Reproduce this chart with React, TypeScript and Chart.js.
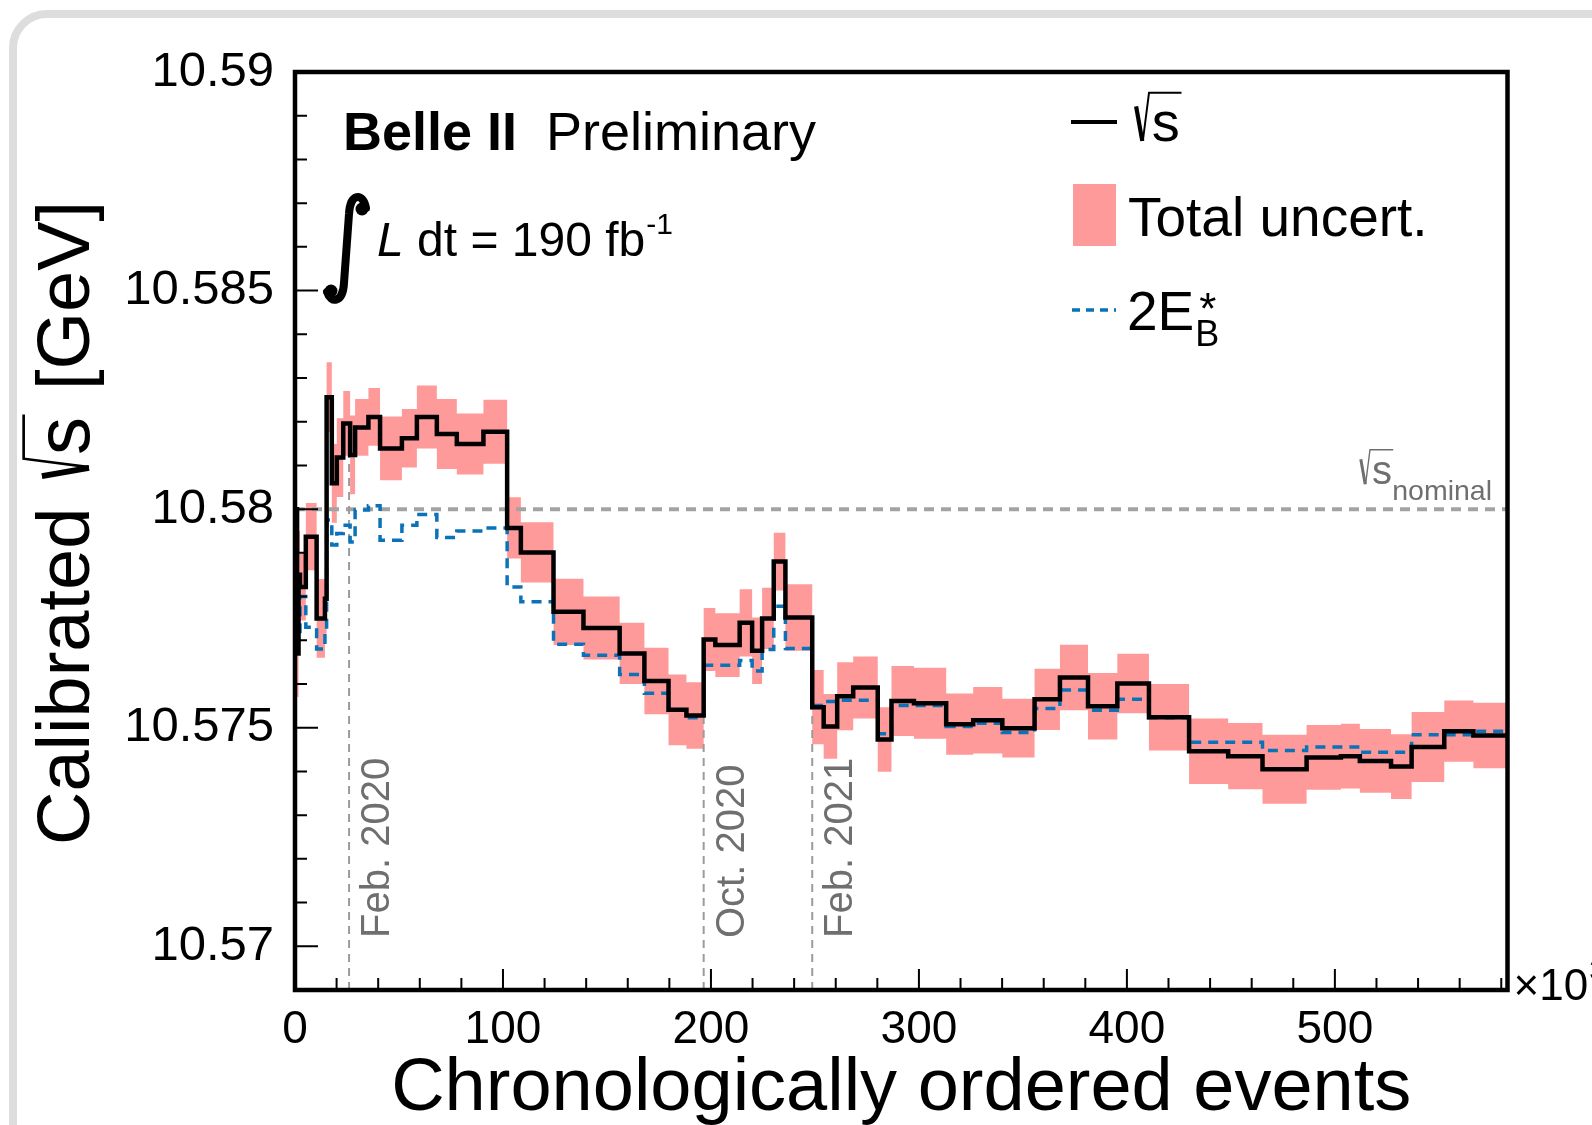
import React, { useEffect, useRef } from "react";
import { Chart, registerables } from "chart.js";

Chart.register(...registerables);

const FONT = '"Liberation Sans", Arial, Helvetica, sans-serif';

// Run-period bin edges, in units of 10^3 chronologically ordered events
const BIN_EDGES = [
  0, 1.0, 1.7, 2.4, 5.2, 10.4, 14.4, 15.2, 17.7, 20.1, 23.2, 26.5, 28.9, 35.3, 40.9,
  51.4, 58.6, 68.2, 77.8, 90.6, 102, 108.6, 124.3, 138.7, 156.1, 168, 179.6, 188.2,
  196.5, 202.1, 213.8, 219.8, 224.6, 230.2, 235.8, 248.7, 254.2, 260.7, 268.4, 280.2,
  286.8, 297.6, 313.1, 326.1, 340.1, 355.6, 367.8, 381.3, 395.4, 410.6, 429.9, 448.7,
  465.2, 486.4, 502.9, 512, 527, 536.9, 552.6, 566.6, 583,
];

// Calibrated sqrt(s) per bin [GeV]
const SQRT_S = [
  10.58, 10.5767, 10.5785, 10.57822, 10.57937, 10.5775, 10.57795, 10.58256, 10.58059,
  10.58118, 10.58196, 10.58124, 10.58187, 10.58211, 10.58139, 10.58162, 10.58211,
  10.58172, 10.58149, 10.58177, 10.57957, 10.57901, 10.57765, 10.57728, 10.5767,
  10.57607, 10.57541, 10.57528, 10.57702, 10.57689, 10.5774, 10.57676, 10.5775,
  10.5788, 10.57752, 10.57547, 10.57503, 10.57572, 10.57592, 10.57473, 10.57561,
  10.57556, 10.57508, 10.57517, 10.57499, 10.57565, 10.57615, 10.57549, 10.57601,
  10.57524, 10.57446, 10.57435, 10.57405, 10.57432, 10.57435, 10.57424, 10.57411,
  10.57456, 10.57492, 10.57482,
];

// Total uncertainty (half width) per bin [GeV]
const TOTAL_UNC = [
  0.0008, 0.001, 0.001, 0.00077, 0.00077, 0.0009, 0.0008, 0.0008, 0.0009, 0.0009,
  0.00074, 0.0009, 0.00065, 0.00066, 0.00073, 0.00067, 0.00072, 0.0008, 0.0007,
  0.00073, 0.0007, 0.00069, 0.00076, 0.00072, 0.0007, 0.00076, 0.00081, 0.00076,
  0.00072, 0.00073, 0.00077, 0.00076, 0.0007, 0.00066, 0.00076, 0.00085, 0.00074,
  0.00078, 0.00071, 0.00074, 0.0008, 0.00081, 0.0007, 0.00076, 0.00067, 0.0007,
  0.00075, 0.00076, 0.00068, 0.00076, 0.00075, 0.00076, 0.00079, 0.00074, 0.00074,
  0.00073, 0.00074, 0.0008, 0.0007, 0.00075,
];

// 2E_B* per bin [GeV]
const TWO_EB = [
  10.5775, 10.577, 10.5772, 10.578, 10.5773, 10.5768, 10.5772, 10.57975, 10.57918,
  10.57944, 10.57963, 10.57925, 10.57998, 10.58008, 10.57929, 10.57963, 10.57988,
  10.57935, 10.5795, 10.57957, 10.57822, 10.57788, 10.57691, 10.57666, 10.57622,
  10.57579, 10.5754, 10.57523, 10.57643, 10.57643, 10.57654, 10.5763, 10.57679,
  10.57778, 10.57681, 10.57551, 10.5756, 10.57563, 10.57563, 10.57486, 10.57551,
  10.57551, 10.57503, 10.5751, 10.57489, 10.57544, 10.57586, 10.5754, 10.57565,
  10.57523, 10.57467, 10.57467, 10.57448, 10.57456, 10.57456, 10.57444, 10.57444,
  10.57484, 10.57484, 10.57492,
];

const NOMINAL = 10.58;

// Run-period markers
const DATE_LABELS = ["Feb. 2020", "Oct. 2020", "Feb. 2021"];
const DATE_POS = [26.0, 196.5, 248.7];
const DATE_TOPS = [10.5812, 10.577, 10.5755];

// Axes
const X_MIN = 0;
const X_MAX = 583;
const Y_MIN = 10.569;
const Y_MAX = 10.59;
const X_MAJOR = [0, 100, 200, 300, 400, 500];
const Y_MAJOR = [10.57, 10.575, 10.58, 10.585, 10.59];
const X_MINOR_STEP = 20;
const Y_MINOR_STEP = 0.001;

const BAND = "#ff9a9a";
const BLUE = "#0a72b9";
const GRAY_TEXT = "#6f6f6f";

const W = 1592;
const H = 1125;

function stepPoints(vals: number[]) {
  const pts = vals.map((v, i) => ({ x: BIN_EDGES[i], y: v }));
  pts.push({ x: BIN_EDGES[vals.length], y: vals[vals.length - 1] });
  return pts;
}

// sqrt sign with overline followed by text; returns the x where it ends
function drawRoot(
  ctx: CanvasRenderingContext2D,
  x: number,
  baseline: number,
  size: number,
  text: string,
  color: string
) {
  ctx.save();
  ctx.font = `${size}px ${FONT}`;
  const tw = ctx.measureText(text).width;
  const top = baseline - 0.86 * size;
  const rx = x + 0.25 * size;
  ctx.strokeStyle = color;
  ctx.fillStyle = color;
  ctx.lineCap = "butt";
  ctx.lineJoin = "miter";
  ctx.lineWidth = size * 0.075;
  ctx.beginPath();
  ctx.moveTo(x + 0.02 * size, baseline - 0.62 * size);
  ctx.lineTo(x + 0.13 * size, baseline);
  ctx.stroke();
  ctx.lineWidth = size * 0.035;
  ctx.beginPath();
  ctx.moveTo(x + 0.14 * size, baseline);
  ctx.lineTo(rx, top);
  ctx.lineTo(rx + 0.08 * size + tw, top);
  ctx.stroke();
  ctx.textAlign = "left";
  ctx.textBaseline = "alphabetic";
  ctx.fillText(text, rx + 0.05 * size, baseline);
  ctx.restore();
  return rx + 0.08 * size + tw;
}

const decorPlugin = {
  id: "decor",
  beforeDraw(chart: any) {
    const ctx: CanvasRenderingContext2D = chart.ctx;
    ctx.save();
    ctx.fillStyle = "#ffffff";
    ctx.fillRect(0, 0, chart.width, chart.height);
    // rounded panel outline
    const x0 = 13, y0 = 14, r = 34;
    const x1 = chart.width + 100, y1 = chart.height + 100;
    ctx.strokeStyle = "#dddddd";
    ctx.lineWidth = 8;
    ctx.beginPath();
    ctx.moveTo(x0, y1);
    ctx.lineTo(x0, y0 + r);
    ctx.arcTo(x0, y0, x0 + r, y0, r);
    ctx.lineTo(x1, y0);
    ctx.stroke();
    ctx.restore();
  },
  afterDraw(chart: any) {
    const ctx: CanvasRenderingContext2D = chart.ctx;
    const a = chart.chartArea;
    const xs = chart.scales.x;
    const ys = chart.scales.y;
    ctx.save();

    // inward tick marks
    ctx.strokeStyle = "#000";
    ctx.lineWidth = 2;
    ctx.beginPath();
    for (let v = X_MIN; v <= X_MAX + 1e-9; v += X_MINOR_STEP) {
      const major = X_MAJOR.includes(v);
      const px = xs.getPixelForValue(v);
      ctx.moveTo(px, a.bottom);
      ctx.lineTo(px, a.bottom - (major ? 21 : 12));
    }
    const iStart = Math.ceil(Y_MIN / Y_MINOR_STEP - 1e-6);
    const iEnd = Math.floor(Y_MAX / Y_MINOR_STEP + 1e-6);
    for (let i = iStart; i <= iEnd; i++) {
      const v = i * Y_MINOR_STEP;
      const major = Y_MAJOR.some((m) => Math.abs(m - v) < 1e-7);
      const py = ys.getPixelForValue(v);
      ctx.moveTo(a.left, py);
      ctx.lineTo(a.left + (major ? 23 : 12), py);
    }
    ctx.stroke();

    // frame
    ctx.lineWidth = 4.5;
    ctx.strokeRect(a.left, a.top, a.right - a.left, a.bottom - a.top);

    ctx.fillStyle = "#000";
    ctx.textBaseline = "alphabetic";
    ctx.textAlign = "left";

    // x10^3 multiplier
    ctx.font = `44px ${FONT}`;
    ctx.fillText("\u00d710", a.right + 6, 1000);
    const mw = ctx.measureText("\u00d710").width;
    ctx.font = `30px ${FONT}`;
    ctx.fillText("3", a.right + 6 + mw + 1, 980);

    // axis titles
    ctx.font = `74px ${FONT}`;
    ctx.textAlign = "center";
    ctx.fillText("Chronologically ordered events", (a.left + a.right) / 2, 1110);
    ctx.textAlign = "left";

    ctx.save();
    ctx.translate(89, 845);
    ctx.rotate(-Math.PI / 2);
    ctx.font = `74px ${FONT}`;
    ctx.fillText("Calibrated", 0, 0);
    let tx = ctx.measureText("Calibrated").width + 30;
    tx = drawRoot(ctx, tx, 0, 76, "s", "#000");
    ctx.font = `74px ${FONT}`;
    ctx.fillText(" [GeV]", tx + 4, 0);
    ctx.restore();

    // experiment label
    ctx.font = `bold 54px ${FONT}`;
    ctx.fillText("Belle II", 343, 150);
    ctx.font = `54px ${FONT}`;
    ctx.fillText("Preliminary", 546, 150);

    // integrated luminosity
    ctx.save();
    ctx.lineWidth = 8;
    ctx.lineCap = "round";
    ctx.beginPath();
    ctx.moveTo(366, 208);
    ctx.bezierCurveTo(363, 192, 350, 193, 349, 214);
    ctx.lineTo(344, 283);
    ctx.bezierCurveTo(343, 303, 331, 304, 327, 292);
    ctx.stroke();
    ctx.beginPath();
    ctx.arc(362, 209, 6.5, 0, Math.PI * 2);
    ctx.fill();
    ctx.beginPath();
    ctx.arc(331, 291, 6.5, 0, Math.PI * 2);
    ctx.fill();
    ctx.restore();
    ctx.font = `italic 48px ${FONT}`;
    ctx.fillText("L", 377, 256);
    let lx = 377 + ctx.measureText("L").width;
    ctx.font = `48px ${FONT}`;
    ctx.fillText(" dt = 190 fb", lx, 256);
    lx += ctx.measureText(" dt = 190 fb").width;
    ctx.font = `30px ${FONT}`;
    ctx.fillText("-1", lx + 1, 234);

    // legend
    ctx.save();
    ctx.strokeStyle = "#000";
    ctx.lineWidth = 4;
    ctx.beginPath();
    ctx.moveTo(1071, 122);
    ctx.lineTo(1117, 122);
    ctx.stroke();
    ctx.restore();
    drawRoot(ctx, 1135, 141, 56, "s", "#000");

    ctx.fillStyle = BAND;
    ctx.fillRect(1073, 184, 43, 62);
    ctx.fillStyle = "#000";
    ctx.font = `55px ${FONT}`;
    ctx.fillText("Total uncert.", 1128, 236);

    ctx.save();
    ctx.strokeStyle = BLUE;
    ctx.lineWidth = 3.5;
    ctx.setLineDash([8, 6]);
    ctx.beginPath();
    ctx.moveTo(1072, 310);
    ctx.lineTo(1116, 310);
    ctx.stroke();
    ctx.restore();
    ctx.font = `55px ${FONT}`;
    ctx.fillText("2E", 1127, 330);
    const ew = ctx.measureText("2E").width;
    ctx.font = `36px ${FONT}`;
    ctx.fillText("B", 1127 + ew + 1, 346);
    ctx.font = `44px ${FONT}`;
    ctx.fillText("*", 1127 + ew + 5, 324);

    // nominal label
    const ny = ys.getPixelForValue(NOMINAL);
    const sx = drawRoot(ctx, 1360, ny - 25, 40, "s", GRAY_TEXT);
    ctx.fillStyle = GRAY_TEXT;
    ctx.font = `28.5px ${FONT}`;
    ctx.fillText("nominal", sx - 1, ny - 9);

    // run-period labels
    ctx.font = `40px ${FONT}`;
    DATE_POS.forEach((p, i) => {
      const px = xs.getPixelForValue(p);
      ctx.save();
      ctx.translate(px + 40, a.bottom - 52);
      ctx.rotate(-Math.PI / 2);
      ctx.fillText(DATE_LABELS[i], 0, 0);
      ctx.restore();
    });

    ctx.restore();
  },
};

export default function App() {
  const ref = useRef<HTMLCanvasElement | null>(null);

  useEffect(() => {
    if (!ref.current) return;
    const upper = SQRT_S.map((v, i) => v + TOTAL_UNC[i]);
    const lower = SQRT_S.map((v, i) => v - TOTAL_UNC[i]);

    const dateSets = DATE_POS.map((p, i) => ({
      label: DATE_LABELS[i],
      data: [
        { x: p, y: Y_MIN },
        { x: p, y: DATE_TOPS[i] },
      ],
      borderColor: "#9b9b9b",
      borderWidth: 2,
      borderDash: [8, 6],
      pointRadius: 0,
      fill: false,
      order: 4,
    }));

    const chart = new Chart(ref.current, {
      type: "line",
      data: {
        datasets: [
          {
            label: "Total uncert.",
            data: stepPoints(upper),
            stepped: "before",
            fill: "+1",
            backgroundColor: BAND,
            borderColor: "rgba(0,0,0,0)",
            borderWidth: 0,
            pointRadius: 0,
            order: 6,
          },
          {
            label: "lower",
            data: stepPoints(lower),
            stepped: "before",
            fill: false,
            borderColor: "rgba(0,0,0,0)",
            borderWidth: 0,
            pointRadius: 0,
            order: 7,
          },
          {
            label: "nominal",
            data: [
              { x: X_MIN, y: NOMINAL },
              { x: X_MAX, y: NOMINAL },
            ],
            borderColor: "#a3a3a3",
            borderWidth: 4,
            borderDash: [10, 7],
            pointRadius: 0,
            fill: false,
            order: 5,
          },
          ...dateSets,
          {
            label: "2E_B*",
            data: stepPoints(TWO_EB),
            stepped: "before",
            borderColor: BLUE,
            borderWidth: 3.5,
            borderDash: [10, 7],
            pointRadius: 0,
            fill: false,
            order: 1,
          },
          {
            label: "sqrt(s)",
            data: stepPoints(SQRT_S),
            stepped: "before",
            borderColor: "#000",
            borderWidth: 4.5,
            pointRadius: 0,
            fill: false,
            order: 0,
          },
        ] as any,
      },
      options: {
        animation: false,
        responsive: false,
        maintainAspectRatio: false,
        devicePixelRatio: 1,
        layout: { padding: { top: 72, right: 84.5, left: 0, bottom: 0 } },
        elements: { point: { radius: 0 }, line: { tension: 0 } },
        plugins: {
          legend: { display: false },
          tooltip: { enabled: false },
          title: { display: false },
        },
        scales: {
          x: {
            type: "linear",
            min: X_MIN,
            max: X_MAX,
            grid: { display: false, drawTicks: false },
            border: { display: false },
            ticks: {
              font: { family: FONT, size: 46 },
              color: "#000",
              padding: 13,
              maxRotation: 0,
              autoSkip: false,
              callback: (v: any) => String(v),
            },
            afterBuildTicks: (s: any) => {
              s.ticks = X_MAJOR.map((v) => ({ value: v }));
            },
            afterFit: (s: any) => {
              s.height = 135;
            },
          },
          y: {
            type: "linear",
            min: Y_MIN,
            max: Y_MAX,
            grid: { display: false, drawTicks: false },
            border: { display: false },
            ticks: {
              font: { family: FONT, size: 49 },
              color: "#000",
              padding: 21,
              autoSkip: false,
              callback: (v: any) => String(parseFloat(Number(v).toFixed(3))),
            },
            afterBuildTicks: (s: any) => {
              s.ticks = Y_MAJOR.map((v) => ({ value: v }));
            },
            afterFit: (s: any) => {
              s.width = 295;
            },
          },
        },
      } as any,
      plugins: [decorPlugin],
    });
    return () => chart.destroy();
  }, []);

  return (
    <div style={{ position: "absolute", left: 0, top: 0, width: W, height: H, background: "#fff" }}>
      <canvas ref={ref} width={W} height={H} style={{ display: "block" }} />
    </div>
  );
}
